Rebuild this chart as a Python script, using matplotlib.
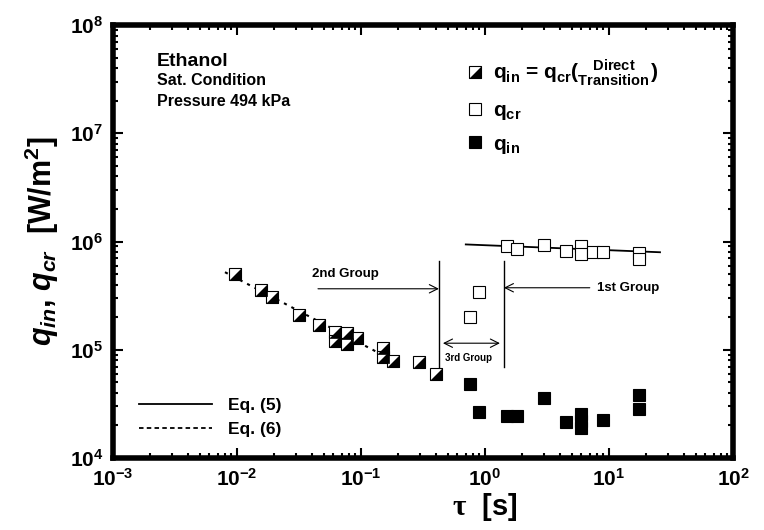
import matplotlib.pyplot as plt
from matplotlib.lines import Line2D

plt.rcParams.update({
    'font.family': 'Liberation Sans',
    'font.weight': 'bold',
    'axes.labelweight': 'bold',
    'mathtext.fontset': 'custom',
    'mathtext.rm': 'Liberation Sans:bold',
    'mathtext.bf': 'Liberation Sans:bold',
    'mathtext.sf': 'Liberation Sans:bold',
    'mathtext.it': 'Liberation Sans:bold:italic',
    'mathtext.cal': 'Liberation Serif',
})

# direct transition (q_in = q_cr), half filled squares
tau_direct = [0.0096, 0.0156, 0.0191, 0.0316, 0.0461, 0.0617, 0.0617, 0.0767,
              0.0767, 0.0923, 0.151, 0.151, 0.180, 0.292, 0.403]
q_direct = [4.97e5, 3.53e5, 3.07e5, 2.08e5, 1.69e5, 1.46e5, 1.21e5, 1.44e5,
            1.14e5, 1.28e5, 1.03e5, 8.58e4, 7.89e4, 7.78e4, 5.94e4]

# q_cr, open squares
tau_cr = [0.757, 0.895, 1.50, 1.80, 2.99, 4.48, 5.94, 5.94, 7.46, 8.89, 17.5, 17.5]
q_cr = [2.0e5, 3.41e5, 9.06e5, 8.57e5, 9.38e5, 8.15e5, 9.06e5, 7.59e5, 7.96e5,
        7.96e5, 7.87e5, 6.92e5]

# q_in, filled squares
tau_in = [0.757, 0.90, 1.50, 1.80, 2.99, 4.48, 5.94, 5.94, 5.94, 8.89, 17.5, 17.5]
q_in = [4.81e4, 2.64e4, 2.42e4, 2.45e4, 3.55e4, 2.16e4, 2.55e4, 2.19e4, 1.89e4,
        2.24e4, 3.81e4, 2.83e4]

# correlation lines (end points)
eq5_tau = [0.70, 25.8]
eq5_q = [9.4e5, 7.96e5]
eq6_tau = [0.008, 0.18]
eq6_q = [5.21e5, 8.0e4]

# group separators
sep_tau = [0.425, 1.42]
sep_q = [6.55e5, 6.9e4]

tri = [(-1, -1), (1, -1), (1, 1)]
ms = 8

fig = plt.figure(figsize=(7.64, 5.30), dpi=100)
ax = fig.add_axes([0.1479, 0.1358, 0.8115, 0.8170])

ax.plot(eq5_tau, eq5_q, 'k-', lw=1.3)
ax.plot(eq6_tau, eq6_q, color='k', ls=(0, (1.5, 2.5)), lw=1.5)

ax.plot(tau_direct, q_direct, ls='none', marker='s', ms=ms, mfc='white', mec='k', mew=0.8)
ax.plot(tau_direct, q_direct, ls='none', marker=tri, ms=ms, mfc='k', mec='k', mew=0.5)
ax.plot(tau_cr, q_cr, ls='none', marker='s', ms=ms, mfc='white', mec='k', mew=0.8)
ax.plot(tau_in, q_in, ls='none', marker='s', ms=ms, mfc='k', mec='k', mew=0.8)

for t in sep_tau:
    ax.plot([t, t], sep_q, 'k-', lw=1)

arrow = dict(arrowstyle='->', lw=0.8, color='k', shrinkA=0, shrinkB=0, mutation_scale=15)
ax.annotate('', xy=(sep_tau[0], 3.66e5), xytext=(0.045, 3.66e5), arrowprops=arrow)
ax.text(0.0403, 5.04e5, '2nd Group', fontsize=9.5, va='center', ha='left')
ax.annotate('', xy=(sep_tau[1], 3.74e5), xytext=(7.0, 3.74e5), arrowprops=arrow)
ax.text(7.96, 3.74e5, '1st Group', fontsize=9.5, va='center', ha='left')
arrow2 = dict(arrow, arrowstyle='<->')
ax.annotate('', xy=(0.458, 1.15e5), xytext=(1.32, 1.15e5), arrowprops=arrow2)
ax.text(0.743, 8.36e4, '3rd Group', fontsize=7, va='center', ha='center')

ax.text(0.0705, 0.905, 'Ethanol', transform=ax.transAxes, fontsize=14, va='baseline')
ax.text(0.0705, 0.861, 'Sat. Condition', transform=ax.transAxes, fontsize=11.5, va='baseline')
ax.text(0.0705, 0.812, 'Pressure 494 kPa', transform=ax.transAxes, fontsize=11.5, va='baseline')

ax.set_xscale('log')
ax.set_yscale('log')
ax.set_xlim(1e-3, 1e2)
ax.set_ylim(1e4, 1e8)

h_direct = (Line2D([], [], ls='none', marker='s', ms=ms, mfc='white', mec='k', mew=0.8),
            Line2D([], [], ls='none', marker=tri, ms=ms, mfc='k', mec='k', mew=0.5))
h_cr = Line2D([], [], ls='none', marker='s', ms=ms, mfc='white', mec='k', mew=0.8)
h_in = Line2D([], [], ls='none', marker='s', ms=ms, mfc='k', mec='k', mew=0.8)
leg1 = ax.legend([h_direct, h_cr, h_in],
                 [r'$\mathrm{q_{in}}$ = $\mathrm{q_{cr}}$($\genfrac{}{}{0}{1}{\mathrm{Direct}}{\mathrm{Transition}}$)',
                  r'$\mathrm{q_{cr}}$', r'$\mathrm{q_{in}}$'],
                 loc='upper left', bbox_to_anchor=(0.572, 0.925), frameon=False,
                 fontsize=15, handlelength=0.75, handletextpad=0.45, labelspacing=0.6,
                 borderpad=0, borderaxespad=0)
ax.add_artist(leg1)

h5 = Line2D([], [], color='k', lw=1.3)
h6 = Line2D([], [], color='k', lw=1.3, ls=(0, (2.5, 1.8)))
ax.legend([h5, h6], ['Eq. (5)', 'Eq. (6)'], loc='center left', bbox_to_anchor=(0.042, 0.094),
          frameon=False, fontsize=12.5, handlelength=4.2, handletextpad=0.9, labelspacing=0.5,
          borderpad=0, borderaxespad=0)

for s in ax.spines.values():
    s.set_linewidth(4)
ax.tick_params(which='both', direction='in', top=True, right=True, labelsize=15)
ax.tick_params(which='major', length=7, width=1.5, pad=7)
ax.tick_params(which='minor', length=3.5, width=1.5)

ax.set_xlabel(r'$\mathcal{\tau}$  [s]', fontsize=21, x=0.6, labelpad=1)
ax.set_ylabel(r'$q_{in}$, $q_{cr}$  [W/m$^{2}$]', fontsize=22, labelpad=6)

fig.savefig('out.png', dpi=100)
